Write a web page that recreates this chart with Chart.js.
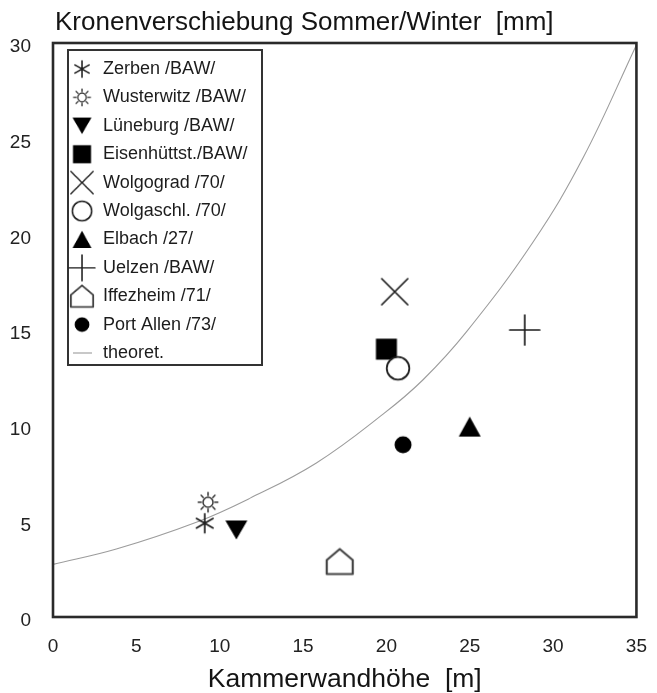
<!DOCTYPE html>
<html><head><meta charset="utf-8">
<script src="https://cdn.jsdelivr.net/npm/chart.js@4/dist/chart.umd.min.js"></script>
<style>html,body{margin:0;padding:0;background:#fff;}canvas{display:block;}</style>
</head><body>
<canvas id="c" width="657" height="693"></canvas>
<script>
// ---- data ----
const siteNames = ['Zerben /BAW/', 'Wusterwitz /BAW/', 'Lüneburg /BAW/', 'Eisenhüttst./BAW/', 'Wolgograd /70/',
                   'Wolgaschl. /70/', 'Elbach /27/', 'Uelzen /BAW/', 'Iffezheim /71/', 'Port Allen /73/'];
const wallHeight = [9.1, 9.3, 11.0, 20.0, 20.5, 20.7, 25.0, 28.3, 17.2, 21.0];   // Kammerwandhöhe [m]
const crownShift = [4.9, 6.0, 4.55, 14.0, 17.0, 13.0, 9.95, 15.0, 2.9, 9.0];    // Kronenverschiebung [mm]
const theoryLabel = 'theoret.';
const theoryHeight = [0, 3.8, 8.6, 11.8, 15.8, 19.8, 22.2, 24.8, 28.8, 31.8, 35];
const theoryShift  = [2.75, 3.55, 4.95, 6.2, 8.05, 10.6, 12.4, 14.9, 19.6, 24.0, 29.9];
const xTickValues = [0, 5, 10, 15, 20, 25, 30, 35];
const yTickValues = [0, 5, 10, 15, 20, 25, 30];
const yAxisTitle = 'Kronenverschiebung Sommer/Winter  [mm]';
const xAxisTitle = 'Kammerwandhöhe  [m]';
const markerKinds = ['asterisk', 'sun', 'triDown', 'square', 'cross', 'ring', 'triUp', 'plus', 'house', 'dot'];

const FONT = '"Liberation Sans", Arial, Helvetica, sans-serif';
const S = 34;
function makeMarker(kind) {
  const c = document.createElement('canvas'); c.width = S; c.height = S;
  const g = c.getContext('2d'); const m = S / 2;
  g.lineCap = 'round'; g.lineJoin = 'round';
  g.strokeStyle = '#1e1e1e'; g.fillStyle = '#000';
  g.lineWidth = 1.7;
  g.beginPath();
  switch (kind) {
    case 'asterisk':
      [90, 30, 150].forEach(a => {
        const r = 9.5, t = a * Math.PI / 180;
        g.moveTo(m - r * Math.cos(t), m - r * Math.sin(t));
        g.lineTo(m + r * Math.cos(t), m + r * Math.sin(t));
      });
      g.stroke(); break;
    case 'sun':
      g.strokeStyle = '#333'; g.lineWidth = 1.5;
      g.arc(m, m, 5, 0, Math.PI * 2); g.stroke();
      g.beginPath();
      for (let i = 0; i < 8; i++) {
        const t = i * Math.PI / 4;
        g.moveTo(m + 6.8 * Math.cos(t), m + 6.8 * Math.sin(t));
        g.lineTo(m + 9.8 * Math.cos(t), m + 9.8 * Math.sin(t));
      }
      g.stroke(); break;
    case 'triDown':
      g.moveTo(m - 11, m - 9.5); g.lineTo(m + 11, m - 9.5); g.lineTo(m, m + 9.5); g.closePath(); g.fill(); break;
    case 'triUp':
      g.moveTo(m - 11, m + 10); g.lineTo(m + 11, m + 10); g.lineTo(m, m - 10); g.closePath(); g.fill(); break;
    case 'square':
      g.fillRect(m - 10.5, m - 10.5, 21, 21); break;
    case 'cross':
      g.moveTo(m - 13, m - 13); g.lineTo(m + 13, m + 13);
      g.moveTo(m + 13, m - 13); g.lineTo(m - 13, m + 13); g.stroke(); break;
    case 'ring':
      g.lineWidth = 1.8; g.fillStyle = '#fff';
      g.arc(m, m, 11.3, 0, Math.PI * 2); g.fill(); g.stroke(); break;
    case 'plus':
      g.moveTo(m - 15, m); g.lineTo(m + 15, m);
      g.moveTo(m, m - 15); g.lineTo(m, m + 15); g.stroke(); break;
    case 'house':
      g.lineWidth = 2.2; g.strokeStyle = '#444'; g.fillStyle = '#fff';
      g.moveTo(m - 13, m - 1.5); g.lineTo(m, m - 12.5); g.lineTo(m + 13, m - 1.5);
      g.lineTo(m + 13, m + 12.5); g.lineTo(m - 13, m + 12.5); g.closePath(); g.fill(); g.stroke(); break;
    case 'dot':
      g.arc(m, m, 8.5, 0, Math.PI * 2); g.fill(); break;
  }
  return c;
}

const datasets = siteNames.map((name, i) => ({
  label: name,
  data: [{ x: wallHeight[i], y: crownShift[i] }],
  pointStyle: makeMarker(markerKinds[i]),
  pointRadius: 12,
  showLine: false,
  order: -i
}));
datasets.push({
  label: theoryLabel,
  data: theoryHeight.map((x, i) => ({ x, y: theoryShift[i] })),
  showLine: true,
  pointRadius: 0,
  borderColor: '#9c9c9c',
  borderWidth: 1.1,
  tension: 0.4,
  fill: false,
  order: 1,
  isTheory: true
});

const decorPlugin = {
  id: 'decor',
  afterDraw(chart) {
    const { ctx, chartArea: a } = chart;
    ctx.save();
    // frame
    ctx.strokeStyle = '#2a2a2a'; ctx.lineWidth = 2.6;
    ctx.strokeRect(a.left, a.top, a.right - a.left, a.bottom - a.top);
    // y-axis title at the top
    ctx.fillStyle = '#141414';
    ctx.font = '26px ' + FONT;
    ctx.textAlign = 'left'; ctx.textBaseline = 'alphabetic';
    ctx.fillText(yAxisTitle, a.left + 2, 30);
    // legend box
    const bx = a.left + 15, by = a.top + 7, bw = 194, bh = 315;
    ctx.fillStyle = '#fff'; ctx.fillRect(bx, by, bw, bh);
    ctx.strokeStyle = '#333'; ctx.lineWidth = 2;
    ctx.strokeRect(bx, by, bw, bh);
    const k = 0.86;
    ctx.font = '18px ' + FONT; ctx.textBaseline = 'middle';
    chart.data.datasets.forEach((ds, i) => {
      const cy = by + 19 + i * 28.4, cx = bx + 14;
      if (ds.isTheory) {
        ctx.strokeStyle = ds.borderColor; ctx.lineWidth = 1.1;
        ctx.beginPath(); ctx.moveTo(cx - 9, cy); ctx.lineTo(cx + 10, cy); ctx.stroke();
      } else {
        ctx.drawImage(ds.pointStyle, cx - S * k / 2, cy - S * k / 2, S * k, S * k);
      }
      ctx.fillStyle = '#1c1c1c';
      ctx.fillText(ds.label, bx + 35, cy);
    });
    ctx.restore();
  }
};

new Chart(document.getElementById('c'), {
  type: 'scatter',
  data: { datasets },
  options: {
    responsive: false,
    animation: false,
    devicePixelRatio: 1,
    layout: { padding: { top: 43, right: 14, left: 0, bottom: 0 } },
    plugins: { legend: { display: false }, tooltip: { enabled: false }, title: { display: false } },
    scales: {
      x: {
        type: 'linear', min: 0, max: 35,
        afterBuildTicks: s => { s.ticks = xTickValues.map(v => ({ value: v })); },
        afterFit: s => { s.height = 76; },
        grid: { display: false }, border: { display: false },
        ticks: { font: { family: FONT, size: 19 }, color: '#222', padding: 10, autoSkip: false, maxRotation: 0 },
        title: { display: true, text: xAxisTitle, color: '#141414',
                 font: { family: FONT, size: 26.5, lineHeight: 1 }, padding: { top: 0, bottom: 0 } }
      },
      y: {
        type: 'linear', min: 0, max: 30,
        afterBuildTicks: s => { s.ticks = yTickValues.map(v => ({ value: v })); },
        afterFit: s => { s.width = 53; },
        grid: { display: false }, border: { display: false },
        ticks: { font: { family: FONT, size: 19 }, color: '#222', padding: 14, labelOffset: 4 }
      }
    }
  },
  plugins: [decorPlugin]
});
</script>
</body></html>
